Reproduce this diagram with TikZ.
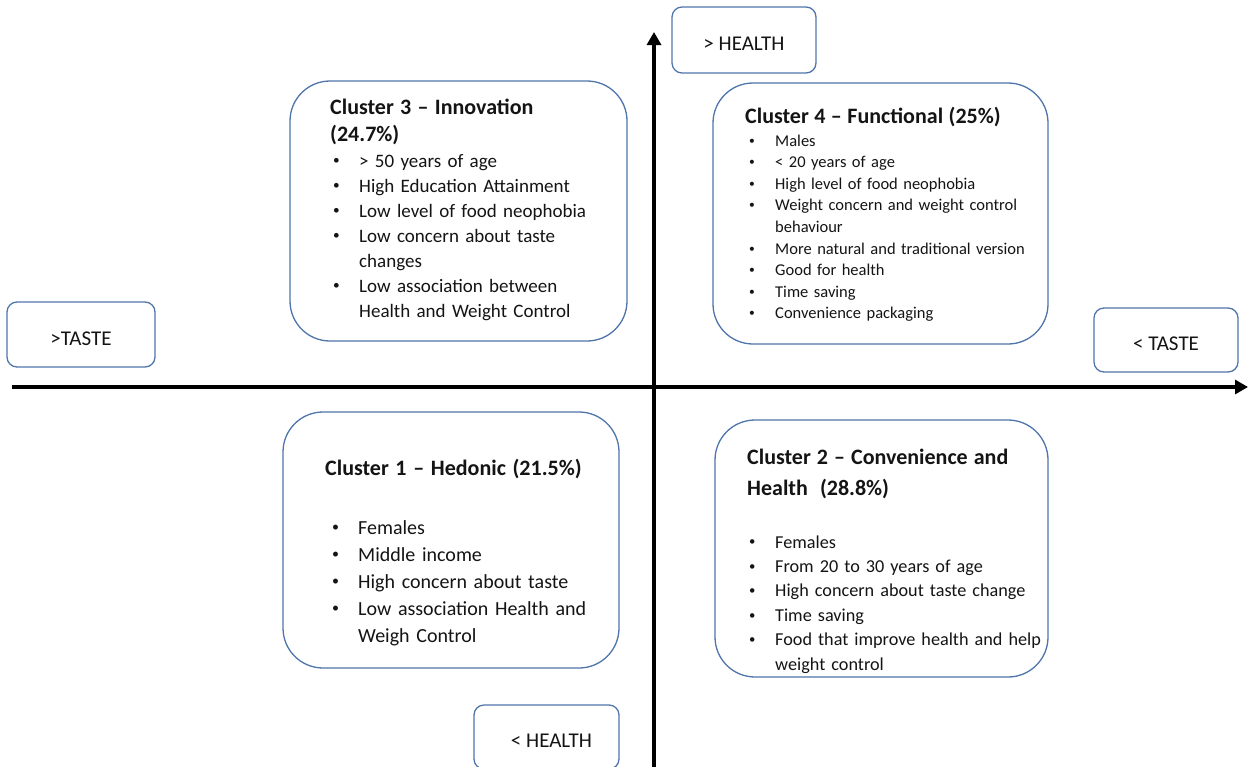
\documentclass[tikz,border=0pt]{standalone}
\usepackage{fontspec}
\setmainfont{Carlito}
\usetikzlibrary{arrows.meta}
\usetikzlibrary{positioning}
\definecolor{boxblue}{RGB}{79,117,170}
\definecolor{txtcol}{RGB}{20,20,20}
\newcommand{\itm}[1]{\makebox[26pt][l]{\raisebox{0.12em}{\scalebox{0.7}{\textbullet}}}#1}
\newcommand{\ttl}[1]{{\bfseries\fontsize{22}{25}\selectfont #1}}

\begin{document}
\begin{tikzpicture}[x=1pt,y=-1pt,>={Triangle[length=13pt,width=14pt]},
  clbox/.style={draw=boxblue,line width=1.3pt,rounded corners=40pt,fill=white},
  axbox/.style={draw=boxblue,line width=1.3pt,rounded corners=10pt,inner sep=0pt,
    font=\fontsize{21}{24}\selectfont,text=txtcol,text height=21pt,text depth=0pt},
  cltext/.style={anchor=base west,inner sep=0pt,text width=320pt,align=left,text=txtcol},
  axis/.style={line width=3.2pt,->}]

  \useasboundingbox (0,0) rectangle (1249,766);

  % axes
  \coordinate (xw) at (12,387);
  \coordinate (xe) at (1248,387);
  \coordinate (ys) at (654,770);
  \coordinate (yn) at (654,32);
  \draw[axis] (xw) -- (xe);
  \draw[axis] (ys) -- (yn);

  % axis labels
  \node[axbox,minimum width=144pt,minimum height=66pt] (hplus) at (744,40) {> HEALTH};
  \node[axbox,minimum width=148pt,minimum height=65pt] (tplus) at (81,334.5) {>TASTE};
  \node[axbox,minimum width=144pt,minimum height=64pt] (tminus) at (1166,340) {< TASTE};
  \node[axbox,minimum width=145pt,minimum height=64pt] (hminus) at (546.5,737) {\hspace*{10pt}< HEALTH};

  % cluster boxes
  \node[clbox,minimum width=337pt,minimum height=260pt] (c3) at (458.5,211) {};
  \node[clbox,minimum width=335pt,minimum height=261pt] (c4) at (880.5,213.5) {};
  \node[clbox,minimum width=336pt,minimum height=256pt] (c1) at (451,540) {};
  \node[clbox,minimum width=333pt,minimum height=257pt] (c2) at (881.5,548.5) {};

  % cluster texts
  \node[cltext,font=\fontsize{19}{25}\selectfont] (c3t) at (333,114) {%
    \hspace*{-3pt}\ttl{Cluster 3 – Innovation}\\[2pt]
    \hspace*{-3pt}\ttl{(24.7\%)}\\[1pt]
    \itm{> 50 years of age}\\
    \itm{High Education Attainment}\\
    \itm{Low level of food neophobia}\\
    \itm{Low concern about taste}\\
    \hspace*{26pt}changes\\
    \itm{Low association between}\\
    \hspace*{26pt}Health and Weight Control};

  \node[cltext,font=\fontsize{16.5}{21.6}\selectfont] (c4t) at (749,123) {%
    \hspace*{-4pt}\ttl{Cluster 4 – Functional (25\%)}\\[1.4pt]
    \itm{Males}\\
    \itm{< 20 years of age}\\
    \itm{High level of food neophobia}\\
    \itm{Weight concern and weight control}\\
    \hspace*{26pt}behaviour\\
    \itm{More natural and traditional version}\\
    \itm{Good for health}\\
    \itm{Time saving}\\
    \itm{Convenience packaging}};

  \node[cltext,font=\fontsize{20}{27}\selectfont] (c1t) at (332,475) {%
    \hspace*{-7pt}\ttl{Cluster 1 – Hedonic (21.5\%)}\\[32pt]
    \itm{Females}\\
    \itm{Middle income}\\
    \itm{High concern about taste}\\
    \itm{Low association Health and}\\
    \hspace*{26pt}Weigh Control};

  \node[cltext,font=\fontsize{18.2}{24.4}\selectfont] (c2t) at (749,464) {%
    \hspace*{-2pt}\ttl{Cluster 2 – Convenience and}\\[6.6pt]
    \hspace*{-2pt}\ttl{Health\ \ (28.8\%)}\\[28.6pt]
    \itm{Females}\\
    \itm{From 20 to 30 years of age}\\
    \itm{High concern about taste change}\\
    \itm{Time saving}\\
    \itm{Food that improve health and help}\\
    \hspace*{26pt}weight control};

\end{tikzpicture}
\end{document}
